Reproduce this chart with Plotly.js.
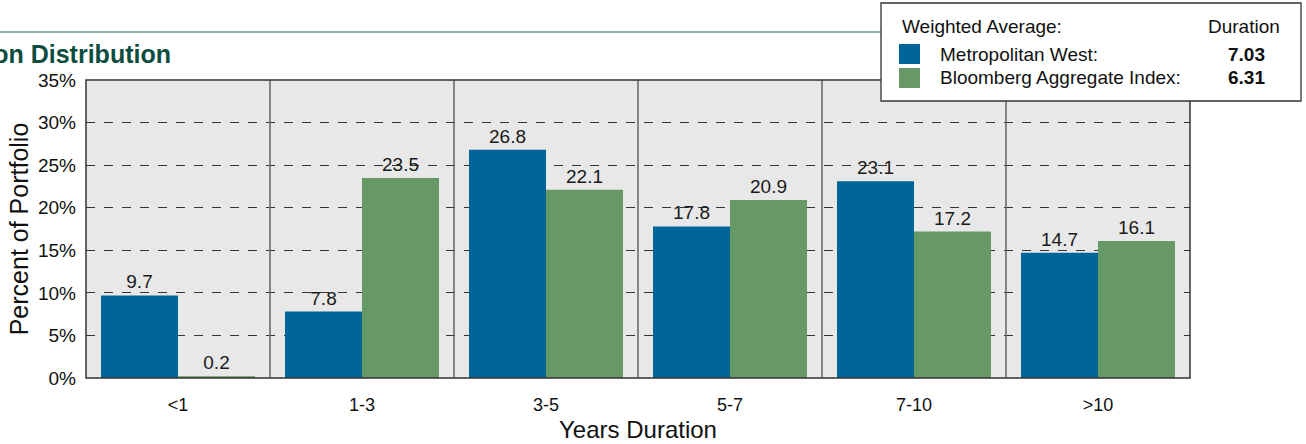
<!DOCTYPE html>
<html><head><meta charset="utf-8">
<script src="https://cdn.plot.ly/plotly-3.0.1.min.js"></script>
<style>html,body{margin:0;padding:0;background:#fff;}#chart{width:1306px;height:444px;}</style>
</head><body><div id="chart"></div>
<script>
const categories = ['<1', '1-3', '3-5', '5-7', '7-10', '>10'];
const metwestValues = [9.7, 7.8, 26.8, 17.8, 23.1, 14.7];
const bloombergValues = [0.2, 23.5, 22.1, 20.9, 17.2, 16.1];
const seriesNames = ['Metropolitan West:', 'Bloomberg Aggregate Index:'];
const weightedDurations = ['7.03', '6.31'];
const chartTitle = 'Duration Distribution';

const W = 1306, H = 444, L = 86, R = 1190, T = 80, B = 378;
const px = x => (x - L) / (R - L);
const py = y => (B - y) / (B - T);
const font = 'Arial, "Liberation Sans", sans-serif';
const blue = '#006699', green = '#669966';

const traces = [
  {type:'bar', name:seriesNames[0], x:categories, y:metwestValues, marker:{color:blue},
   text:metwestValues.map(v=>v.toFixed(1)), textposition:'outside', textfont:{size:19,color:'#1a1a1a',family:font}, cliponaxis:false},
  {type:'bar', name:seriesNames[1], x:categories, y:bloombergValues, marker:{color:green},
   text:bloombergValues.map(v=>v.toFixed(1)), textposition:'outside', textfont:{size:19,color:'#1a1a1a',family:font}, cliponaxis:false}
];

const shapes = [];
for (let i = 0; i < categories.length - 1; i++) {
  shapes.push({type:'line', xref:'x', yref:'paper', x0:i+0.5, x1:i+0.5, y0:0, y1:1, line:{color:'#666', width:1.5}, layer:'above'});
}
shapes.push({type:'rect', xref:'paper', yref:'paper', x0:0, x1:1, y0:0, y1:1, line:{color:'#333', width:1.5}, layer:'above'});
shapes.push({type:'line', xref:'paper', yref:'paper', x0:px(0), x1:px(881), y0:py(32), y1:py(32), line:{color:'#1f5c4f', width:1.2}});
shapes.push({type:'rect', xref:'paper', yref:'paper', x0:px(881), x1:px(1301), y0:py(101), y1:py(3), fillcolor:'#fff', line:{color:'#333', width:1.3}, layer:'above'});
shapes.push({type:'rect', xref:'paper', yref:'paper', x0:px(899), x1:px(920), y0:py(64), y1:py(44), fillcolor:blue, line:{width:0}, layer:'above'});
shapes.push({type:'rect', xref:'paper', yref:'paper', x0:px(899), x1:px(920), y0:py(88), y1:py(68), fillcolor:green, line:{width:0}, layer:'above'});

const lf = {family:font, size:19, color:'#111'};
const ann = (text, x, y, xanchor, extra) => Object.assign({xref:'paper', yref:'paper', x:px(x), y:py(y), xanchor, yanchor:'middle', text, showarrow:false, font:lf}, extra||{});
const annotations = [
  ann('Weighted Average:', 900, 27, 'left'),
  ann('Duration', 1282, 27, 'right'),
  ann(seriesNames[0], 938, 54, 'left'),
  ann(seriesNames[1], 938, 78, 'left'),
  ann('<b>' + weightedDurations[0] + '</b>', 1267, 54, 'right'),
  ann('<b>' + weightedDurations[1] + '</b>', 1267, 78, 'right'),
  {xref:'paper', yref:'paper', x:px(173), y:py(54), xanchor:'right', yanchor:'middle', text:'<b>'+chartTitle+'</b>', showarrow:false, font:{family:font, size:25, color:'#0d4d3f'}}
];

const layout = {
  width:W, height:H, margin:{l:L, r:W-R, t:T, b:H-B, pad:0},
  paper_bgcolor:'#fff', plot_bgcolor:'#e8e8e8',
  barmode:'group', bargap:0.163, bargroupgap:0,
  showlegend:false, font:{family:font, color:'#111'},
  xaxis:{type:'category', tickfont:{size:18, color:'#111'}, ticks:'', showgrid:false, showline:false,
         title:{text:'Years Duration', font:{size:24, color:'#111'}, standoff:7}, ticklabelstandoff:14},
  yaxis:{range:[0,35], dtick:5, ticksuffix:'%', tickfont:{size:19, color:'#111'}, showgrid:true, gridcolor:'#333', griddash:'dash', gridwidth:1,
         zeroline:false, showline:false, ticks:'', ticklabelstandoff:9,
         title:{text:'Percent of Portfolio', font:{size:25, color:'#111'}, standoff:2}},
  shapes, annotations
};
Plotly.newPlot('chart', traces, layout, {displayModeBar:false, staticPlot:true});
</script></body></html>
